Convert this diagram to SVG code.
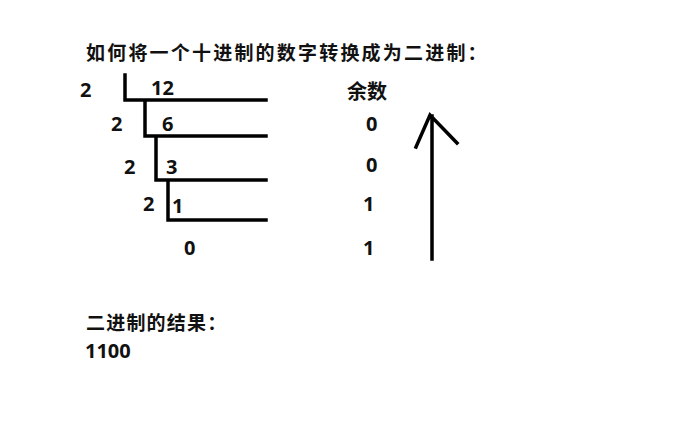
<svg xmlns="http://www.w3.org/2000/svg" width="677" height="427" viewBox="0 0 677 427">
<style>
.t{font-family:"Noto Sans CJK SC","Noto Sans",sans-serif;font-weight:bold;fill:#111}
.n{font-family:"Open Sans","Noto Sans",sans-serif;font-weight:bold;font-size:20px;fill:#111}
.ln{stroke:#000;stroke-width:3.5;fill:none;stroke-linecap:square}
</style>
<rect width="677" height="427" fill="#fff"/>
<g id="title"><text class="t" x="86" y="60" font-size="19" letter-spacing="2.2">如何将一个十进制的数字转换成为二进制：</text></g>
<g id="division">
<text class="n" x="80" y="97">2</text>
<text class="n" x="151" y="95">12</text>
<text class="n" x="111" y="131">2</text>
<text class="n" x="162" y="131">6</text>
<text class="n" x="124" y="174">2</text>
<text class="n" x="166" y="174">3</text>
<text class="n" x="143" y="211">2</text>
<text class="n" x="172" y="213">1</text>
<text class="n" x="184" y="255">0</text>
</g>
<g id="connectors">
<path class="ln" d="M125,75 V100 H266 M145,100 V136 H266 M156,136 V180 H266 M168,180 V220 H266"/>
<path class="ln" d="M432,259 V116 M416,147 L430,115 L457,143" stroke-linecap="round"/>
</g>
<g id="remainders">
<text class="t" x="347" y="99" font-size="20">余数</text>
<text class="n" x="366" y="131">0</text>
<text class="n" x="366" y="172">0</text>
<text class="n" x="363" y="211">1</text>
<text class="n" x="363" y="255">1</text>
</g>
<g id="result">
<text class="t" x="86" y="330" font-size="19" letter-spacing="1.2">二进制的结果：</text>
<text class="n" x="85" y="358">1100</text>
</g>
</svg>
